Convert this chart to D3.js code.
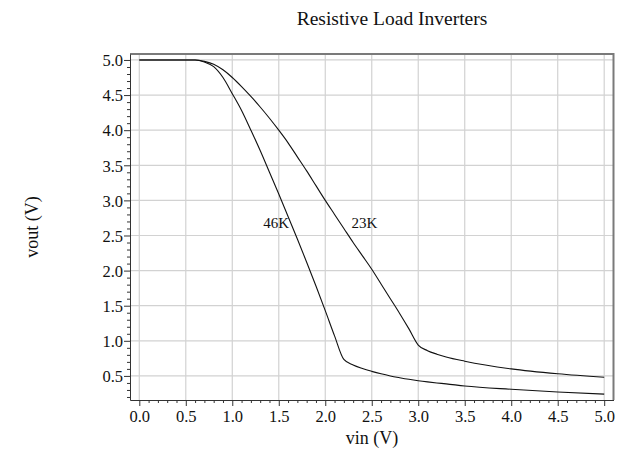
<!DOCTYPE html>
<html>
<head>
<meta charset="utf-8">
<script src="https://cdn.jsdelivr.net/npm/d3@7"></script>
<style>
  html, body { margin: 0; padding: 0; background: #fff; }
  svg { display: block; }
  text { font-family: "Liberation Serif", "Times New Roman", serif; fill: #111; }
</style>
</head>
<body>
<svg id="chart" width="623" height="451"></svg>
<script>
// Input voltage sweep (V)
const vin = [0.0, 0.6, 0.7, 0.8, 0.9, 1.0, 1.1, 1.2, 1.3, 1.4, 1.5, 1.6, 1.7, 1.8, 1.9,
             2.0, 2.1, 2.2, 2.3, 2.4, 2.5, 2.6, 2.7, 2.8, 2.9, 3.0, 3.1, 3.2, 3.3, 3.5,
             4.0, 4.5, 5.0];

// Output voltage with a 23K load resistor
const vout23K = [5.0, 5.0, 4.98, 4.94, 4.86, 4.75, 4.62, 4.48, 4.33, 4.17, 4.0, 3.82, 3.62, 3.42, 3.21,
                 3.0, 2.80, 2.60, 2.40, 2.21, 2.02, 1.81, 1.60, 1.39, 1.17, 0.94, 0.86, 0.81, 0.77, 0.71,
                 0.60, 0.53, 0.48];

// Output voltage with a 46K load resistor
const vout46K = [5.0, 5.0, 4.97, 4.905, 4.75, 4.52, 4.28, 4.0, 3.71, 3.40, 3.09, 2.77, 2.45, 2.12, 1.78,
                 1.43, 1.07, 0.735, 0.655, 0.605, 0.565, 0.53, 0.50, 0.475, 0.452, 0.432, 0.415, 0.40, 0.387, 0.357,
                 0.31, 0.272, 0.24];

const seriesNames = ["23K", "46K"];
const labelAnchors = { "46K": [1.333, 2.61], "23K": [2.283, 2.61] };

const xTicks = [0.0, 0.5, 1.0, 1.5, 2.0, 2.5, 3.0, 3.5, 4.0, 4.5, 5.0];
const yTicks = [0.5, 1.0, 1.5, 2.0, 2.5, 3.0, 3.5, 4.0, 4.5, 5.0];

const titleText = "Resistive Load Inverters";
const xLabel = "vin (V)";
const yLabel = "vout (V)";

const svg = d3.select("#chart");
const plot = { left: 130, right: 613.5, top: 54, bottom: 400 };

const x = d3.scaleLinear().domain([-0.1, 5.1]).range([plot.left, plot.right]);
const y = d3.scaleLinear().domain([0.157, 5.085]).range([plot.bottom, plot.top]);

// Grid
const grid = svg.append("g").attr("stroke", "#d2d2d2").attr("stroke-width", 1.2);
grid.selectAll("line.gx").data(xTicks).join("line")
  .attr("x1", d => x(d)).attr("x2", d => x(d))
  .attr("y1", plot.top).attr("y2", plot.bottom);
grid.selectAll("line.gy").data(yTicks).join("line")
  .attr("x1", plot.left).attr("x2", plot.right)
  .attr("y1", d => y(d)).attr("y2", d => y(d));

// Frame: top and right edges
svg.append("path")
  .attr("d", `M${plot.left},${plot.top}H${plot.right}V${plot.bottom}`)
  .attr("fill", "none").attr("stroke", "#7a7a7a").attr("stroke-width", 2);

// Minor ticks every 0.1 V
const xMinor = d3.range(0, 51).map(i => i / 10).filter(v => Math.round(v * 10) % 5 !== 0);
const yMinor = d3.range(2, 51).map(i => i / 10).filter(v => Math.round(v * 10) % 5 !== 0);

const xAxis = svg.append("g")
  .attr("transform", `translate(0,${plot.bottom})`)
  .call(d3.axisBottom(x).tickValues(xTicks).tickFormat(d3.format(".1f")).tickSize(6).tickSizeOuter(0).tickPadding(3));
svg.append("g")
  .attr("transform", `translate(0,${plot.bottom})`)
  .call(d3.axisBottom(x).tickValues(xMinor).tickFormat("").tickSize(3).tickSizeOuter(0))
  .call(g => g.select(".domain").remove());

const yAxis = svg.append("g")
  .attr("transform", `translate(${plot.left},0)`)
  .call(d3.axisLeft(y).tickValues(yTicks).tickFormat(d3.format(".1f")).tickSize(6).tickSizeOuter(0).tickPadding(1));
svg.append("g")
  .attr("transform", `translate(${plot.left},0)`)
  .call(d3.axisLeft(y).tickValues(yMinor).tickFormat("").tickSize(3).tickSizeOuter(0))
  .call(g => g.select(".domain").remove());

svg.selectAll(".tick line").attr("stroke", "#333");
svg.selectAll(".domain").attr("stroke", "#333");
svg.selectAll(".tick text")
  .attr("font-family", "Liberation Serif, Times New Roman, serif")
  .attr("font-size", 16.5).attr("fill", "#111");
xAxis.selectAll(".tick text").attr("dy", "0.8em");
yAxis.selectAll(".tick text").attr("dy", "0.35em");

// Curves
const line = d3.line().x(d => x(d[0])).y(d => y(d[1])).curve(d3.curveMonotoneX);
const seriesData = {
  "23K": vin.map((v, i) => [v, vout23K[i]]),
  "46K": vin.map((v, i) => [v, vout46K[i]])
};
seriesNames.forEach(name => {
  svg.append("path")
    .datum(seriesData[name])
    .attr("d", line)
    .attr("fill", "none")
    .attr("stroke", "#111")
    .attr("stroke-width", 1.1);
  svg.append("text")
    .attr("x", x(labelAnchors[name][0]))
    .attr("y", y(labelAnchors[name][1]))
    .attr("font-size", 15)
    .text(name);
});

// Titles
svg.append("text")
  .attr("x", 392).attr("y", 25)
  .attr("text-anchor", "middle")
  .attr("font-size", 19.5)
  .text(titleText);

svg.append("text")
  .attr("x", 372).attr("y", 444)
  .attr("text-anchor", "middle")
  .attr("font-size", 18)
  .text(xLabel);

svg.append("text")
  .attr("transform", `translate(38,227) rotate(-90)`)
  .attr("text-anchor", "middle")
  .attr("font-size", 18)
  .text(yLabel);
</script>
</body>
</html>
